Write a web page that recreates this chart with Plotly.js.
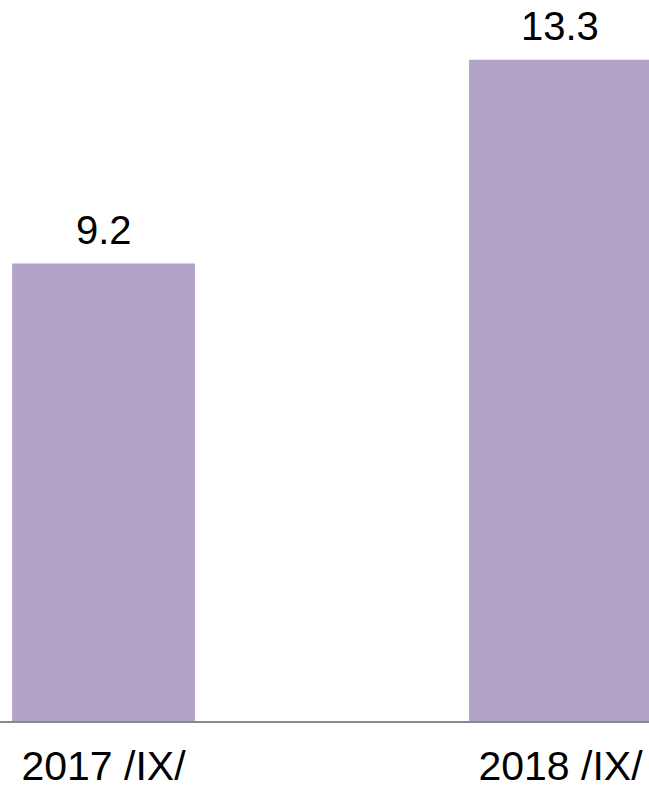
<!DOCTYPE html>
<html>
<head>
<meta charset="utf-8">
<script src="https://cdn.plot.ly/plotly-3.0.1.min.js"></script>
<style>
  html, body { margin: 0; padding: 0; background: #fff; }
  #chart { width: 649px; height: 791px; }
</style>
</head>
<body>
<div id="chart"></div>
<script>
var categories = ['2017 /IX/', '2018 /IX/'];
var values = [9.2, 13.3];

var fontFamily = 'Liberation Sans, Arial, sans-serif';

var data = [{
    x: categories,
    y: values,
    type: 'bar',
    width: 0.4,
    hoverinfo: 'none',
    marker: { color: '#b3a2c7' }
}];

// value labels above bars, placed at the data points
var labels = categories.map(function (c, i) {
    return {
        x: c,
        y: values[i],
        xref: 'x',
        yref: 'y',
        text: values[i].toFixed(1),
        showarrow: false,
        yanchor: 'bottom',
        yshift: 10,
        font: { family: fontFamily, size: 40, color: '#000' }
    };
});

var layout = {
    width: 649,
    height: 791,
    margin: { l: 0, r: 0, t: 0, b: 70 },
    paper_bgcolor: '#fff',
    plot_bgcolor: '#fff',
    showlegend: false,
    font: { family: fontFamily, color: '#000' },
    annotations: labels,
    xaxis: {
        type: 'category',
        range: [-0.2265, 1.1937],
        showline: true,
        linecolor: '#898989',
        linewidth: 2,
        showgrid: false,
        zeroline: false,
        ticks: '',
        tickfont: { size: 41, color: '#000' },
        ticklabelstandoff: 8
    },
    yaxis: {
        range: [0, 14.5],
        visible: false
    }
};

Plotly.newPlot('chart', data, layout, { displayModeBar: false, staticPlot: true });
</script>
</body>
</html>
